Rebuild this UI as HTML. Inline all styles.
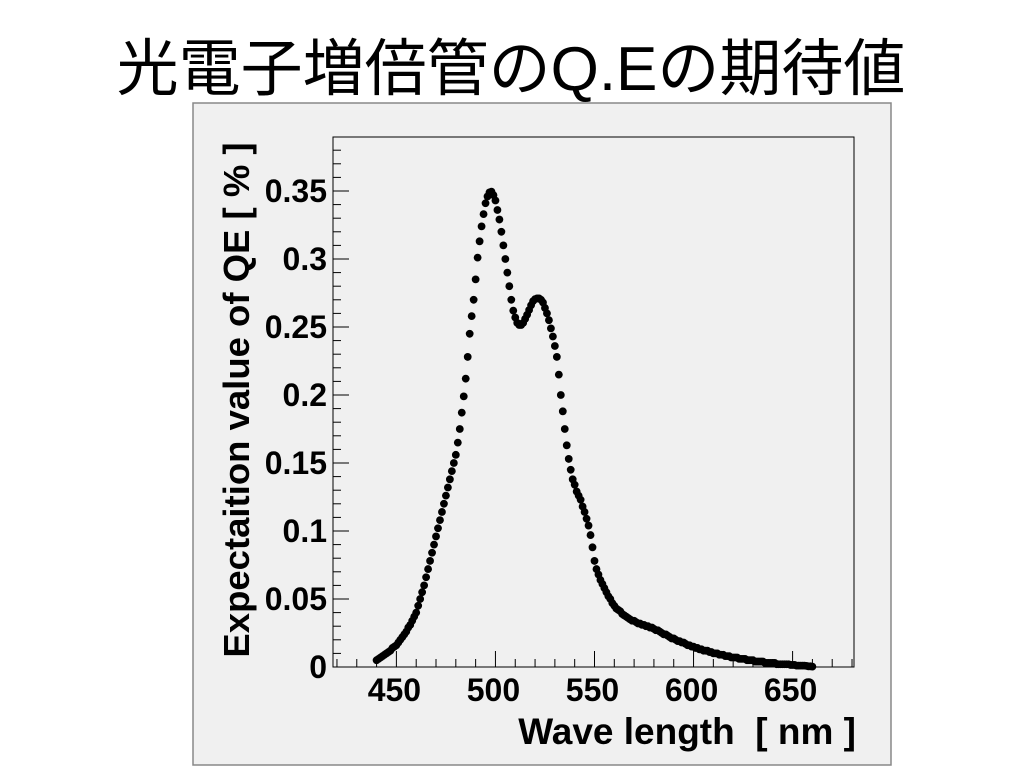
<!DOCTYPE html>
<html><head><meta charset="utf-8"><style>
html,body{margin:0;padding:0;background:#fff;width:1024px;height:768px;overflow:hidden}
</style></head><body>
<svg id="c" width="1024" height="768" xmlns="http://www.w3.org/2000/svg">
<text x="511" y="90" text-anchor="middle" font-family="'Liberation Sans','Noto Sans CJK JP',sans-serif" font-size="62">光電子増倍管のQ.Eの期待値</text>
<rect x="193" y="103" width="698" height="662" fill="#f0f0f0" stroke="#888" stroke-width="1.5"/>
<rect x="333" y="137" width="521" height="530" fill="none" stroke="#000" stroke-width="1"/>
<g id="axes"></g>
<g id="marks"></g>
<text x="856" y="744" text-anchor="end" font-family="'Liberation Sans',sans-serif" font-weight="bold" font-size="37" xml:space="preserve">Wave length  [ nm ]</text>
<text transform="translate(249,400) rotate(-90)" text-anchor="middle" font-family="'Liberation Sans',sans-serif" font-weight="bold" font-size="36.5">Expectaition value of QE [ % ]</text>
</svg>
<script>
const startWl = 440;
const qeValues = [
.005,.006,.007,.008,.009,.010,.011,.012,.014,.015,
.016,.018,.020,.022,.024,.026,.029,.031,.034,.037,
.040,.045,.050,.055,.060,.066,.072,.078,.084,.090,
.096,.102,.108,.114,.120,.126,.132,.138,.144,.150,
.156,.165,.175,.187,.199,.212,.228,.245,.258,.270,
.285,.301,.313,.324,.333,.341,.346,.349,.3495,.347,
.343,.336,.329,.320,.310,.300,.290,.280,.270,.262,
.257,.253,.2515,.2515,.253,.256,.259,.2625,.266,.269,
.2705,.271,.271,.270,.268,.264,.260,.255,.249,.243,
.236,.228,.215,.200,.188,.175,.163,.153,.145,.138,
.134,.129,.126,.123,.118,.114,.109,.104,.097,.088,
.078,.072,.068,.064,.061,.058,.055,.052,.050,.047,
.045,.043,.042,.041,.039,.038,.037,.036,.035,.034,
.034,.033,.032,.032,.031,.031,.030,.030,.029,.029,
.028,.027,.027,.026,.025,.024,.024,.023,.022,.021,
.021,.020,.019,.019,.018,.018,.017,.016,.016,.015,
.015,.014,.014,.013,.013,.012,.012,.012,.011,.011,
.010,.010,.010,.009,.009,.009,.008,.008,.008,.007,
.007,.007,.007,.006,.006,.006,.006,.005,.005,.005,
.005,.004,.004,.004,.004,.004,.003,.003,.003,.003,
.003,.003,.002,.002,.002,.002,.002,.002,.002,.0015,
.0015,.0015,.001,.001,.001,.001,.001,.0008,.0005,.0005,
.0003];
const xTicks = [450,500,550,600,650];
const xTickLabels = ["450","500","550","600","650"];
const yTicks = [0,0.05,0.1,0.15,0.2,0.25,0.3,0.35];
const yTickLabels = ["0","0.05","0.1","0.15","0.2","0.25","0.3","0.35"];

const X0=333,X1=854,Y0=667,Y1=137,XMIN=418,XMAX=681,YMIN=0,YMAX=0.3897;
const sx=v=>X0+(v-XMIN)/(XMAX-XMIN)*(X1-X0);
const sy=v=>Y0-(v-YMIN)/(YMAX-YMIN)*(Y0-Y1);
const NS="http://www.w3.org/2000/svg";
const axes=document.getElementById('axes'), marks=document.getElementById('marks');
function mk(tag,at,parent){const e=document.createElementNS(NS,tag);for(const k in at)e.setAttribute(k,at[k]);parent.appendChild(e);return e;}
for(let w=420;w<=680;w+=10){
  const major=w%50===0;
  const t=mk('line',{x1:sx(w),x2:sx(w),y1:Y0,y2:Y0-(major?16:8),stroke:'#000','stroke-width':1},axes);
  
  
}
xTicks.forEach((v,i)=>{
  const t=mk('text',{x:sx(v)-2,y:701,'text-anchor':'middle','font-family':"'Liberation Sans',sans-serif",'font-weight':'bold','font-size':32},axes);
  t.textContent=xTickLabels[i];
  
  
});
for(let k=0;k<=38;k++){
  const v=k*0.01, major=k%5===0;
  const t=mk('line',{x1:X0,x2:X0+(major?16:8),y1:sy(v),y2:sy(v),stroke:'#000','stroke-width':1},axes);
  
  
}
yTicks.forEach((v,i)=>{
  const t=mk('text',{x:327,y:sy(v)+11,'text-anchor':'end','font-family':"'Liberation Sans',sans-serif",'font-weight':'bold','font-size':32},axes);
  t.textContent=yTickLabels[i];
  
  
});
qeValues.forEach((v,i)=>{
  const c=mk('circle',{cx:sx(startWl+i),cy:sy(v),r:3.9,fill:'#000'},marks);
  
  
});
</script>
</body></html>
